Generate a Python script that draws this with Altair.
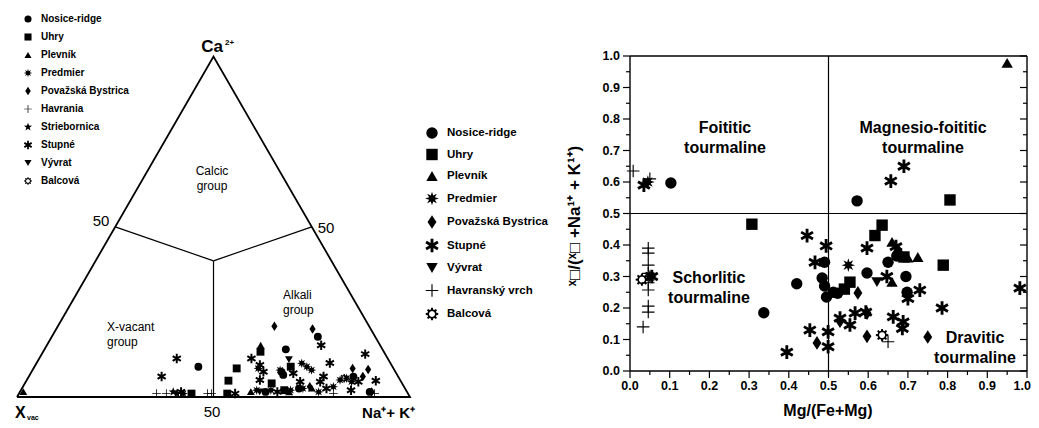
import math
import altair as alt
import pandas as pd

FONT = "Liberation Sans"

TERN_SITES = ["Nosice-ridge", "Uhry", "Plevník", "Predmier", "Považská Bystrica",
              "Havrania", "Striebornica", "Stupné", "Vývrat", "Balcová"]
XY_SITES = ["Nosice-ridge", "Uhry", "Plevník", "Predmier", "Považská Bystrica",
            "Stupné", "Vývrat", "Havranský vrch", "Balcová"]

# ternary X-site data (%): Ca and Na+K (X-vacancy = remainder)
T_NOS_CA = [8.9, 14.0, 17.7, 7.4, 6.0, 1.5, 2.5, 1.5, 6.5]
T_NOS_NAK = [41.7, 61.4, 67.7, 63.6, 82.6, 62.5, 70.5, 89.0, 64.5]
T_UHR_CA = [8.4, 4.8, 1.0, 13.3, 8.9, 4.0, 1.0, 2.0]
T_UHR_NAK = [51.7, 51.4, 53.0, 55.3, 65.2, 62.8, 43.9, 67.0]
T_PLE_CA = [1.6, 15.2, 1.6, 2.6, 1.5]
T_PLE_NAK = [0.8, 54.4, 58.7, 73.7, 68.5]
T_PRE_CA = [1.0, 8.4, 9.9, 8.9, 7.9, 5.0, 5.5, 4.5, 7.9, 2.0, 2.0, 2.0, 2.5, 3.0, 1.5]
T_PRE_NAK = [41.8, 57.2, 67.5, 69.3, 71.0, 79.7, 81.1, 82.9, 63.0, 60.0, 63.6, 68.6, 71.5, 79.0, 76.0]
T_POV_CA = [20.8, 20.0, 8.4, 8.1, 3.0, 1.5, 6.0]
T_POV_NAK = [55.1, 65.2, 81.2, 85.3, 73.0, 89.5, 85.0]
T_HAV_CA = [1.0, 1.0, 1.0, 1.0, 1.0, 1.0]
T_HAV_NAK = [35.0, 37.5, 48.0, 49.0, 80.0, 90.5]
T_STR_CA = [1.5, 1.0]
T_STR_NAK = [39.0, 40.2]
T_STU_CA = [11.3, 6.0, 1.5, 1.0, 11.3, 5.0, 15.2, 10.0, 12.6, 4.8, 9.4, 7.4, 6.0, 4.5,
            4.5, 7.0, 1.5, 2.5, 4.5, 2.0]
T_STU_NAK = [35.0, 33.8, 41.0, 55.0, 54.0, 59.3, 69.8, 74.6, 82.3, 88.9, 57.1, 59.0, 75.0, 74.9,
             69.8, 66.8, 65.5, 77.5, 84.6, 84.0]
T_VYV_CA = [11.0, 1.5]
T_VYV_NAK = [63.7, 61.0]
T_BAL_CA = [5.5]
T_BAL_NAK = [80.5]

# triangle outline and field boundaries (Ca %, Na+K %)
OUTLINE_CA = [0, 0, 100, 0]
OUTLINE_NAK = [0, 100, 0, 0]
CENTER_CA, CENTER_NAK = 40, 30
BOUND_CA = [50, 50, 0]
BOUND_NAK = [0, 50, 50]

# Mg/(Fe+Mg) vs X-vacancy data
S_NOS_MG = [0.103, 0.572, 0.420, 0.337, 0.490, 0.484, 0.490, 0.495, 0.512, 0.523, 0.597, 0.650, 0.672, 0.695, 0.698]
S_NOS_XV = [0.597, 0.540, 0.277, 0.185, 0.345, 0.295, 0.270, 0.235, 0.250, 0.247, 0.311, 0.345, 0.365, 0.300, 0.250]
S_UHR_MG = [0.307, 0.806, 0.635, 0.617, 0.554, 0.540, 0.789, 0.690]
S_UHR_XV = [0.466, 0.543, 0.463, 0.430, 0.282, 0.260, 0.336, 0.362]
S_PLE_MG = [0.950, 0.660, 0.675, 0.725, 0.700, 0.660]
S_PLE_XV = [0.978, 0.410, 0.390, 0.362, 0.360, 0.283]
S_PRE_MG = [0.045, 0.550, 0.050]
S_PRE_XV = [0.600, 0.336, 0.300]
S_POV_MG = [0.574, 0.529, 0.597, 0.471, 0.597, 0.750]
S_POV_XV = [0.248, 0.158, 0.184, 0.089, 0.110, 0.108]
S_STU_MG = [0.035, 0.657, 0.690, 0.446, 0.494, 0.597, 0.466, 0.647, 0.730, 0.700, 0.786, 0.982, 0.529,
            0.554, 0.567, 0.594, 0.663, 0.688, 0.686, 0.453, 0.499, 0.499, 0.395, 0.055, 0.670]
S_STU_XV = [0.590, 0.603, 0.650, 0.430, 0.397, 0.390, 0.345, 0.300, 0.257, 0.230, 0.200, 0.263, 0.168,
            0.146, 0.184, 0.187, 0.172, 0.156, 0.135, 0.130, 0.124, 0.077, 0.060, 0.300, 0.395]
S_VYV_MG = [0.622]
S_VYV_XV = [0.282]
S_HAV_MG = [0.008, 0.050, 0.046, 0.046, 0.046, 0.046, 0.046, 0.046, 0.046, 0.046, 0.033, 0.650]
S_HAV_XV = [0.635, 0.610, 0.390, 0.374, 0.336, 0.310, 0.280, 0.257, 0.206, 0.187, 0.140, 0.093]
S_BAL_MG = [0.030, 0.635]
S_BAL_XV = [0.290, 0.114]

MAJOR_TICKS = [round(i * 0.1, 1) for i in range(11)]
MINOR_TICKS = [round(0.05 + i * 0.1, 2) for i in range(10)]
TICK_LABELS = [f"{v:.1f}" for v in MAJOR_TICKS]


def poly(pts):
    return "M" + "L".join(f"{x:.3f},{y:.3f}" for x, y in pts) + "Z"


def arms(angles, hl, hw):
    out = ""
    for a in angles:
        t = math.radians(a)
        ux, uy = math.cos(t), math.sin(t)
        nx, ny = -uy, ux
        out += poly([(hl * ux + hw * nx, hl * uy + hw * ny), (-hl * ux + hw * nx, -hl * uy + hw * ny),
                     (-hl * ux - hw * nx, -hl * uy - hw * ny), (hl * ux - hw * nx, hl * uy - hw * ny)])
    return out


def burst(n, ro, ri):
    pts = []
    for i in range(2 * n):
        t = math.radians(-90 + i * 180 / n)
        r = ro if i % 2 == 0 else ri
        pts.append((r * math.cos(t), r * math.sin(t)))
    return poly(pts)


def gear(n, ro, rr, rh):
    step = 360 / n
    pts = []
    for k in range(n):
        c = k * step
        for a, r in ((c - step * 0.32, rr), (c - step * 0.18, ro), (c + step * 0.18, ro), (c + step * 0.32, rr)):
            t = math.radians(a)
            pts.append((r * math.cos(t), r * math.sin(t)))
    hole = [(rh * math.cos(math.radians(-15 * k)), rh * math.sin(math.radians(-15 * k))) for k in range(24)]
    return poly(pts) + poly(hole)


PLUS = arms((0, 90), 1.1, 0.1)
SHAPE = {
    "Nosice-ridge": "circle",
    "Uhry": "square",
    "Plevník": "triangle-up",
    "Predmier": burst(8, 1.2, 0.55),
    "Považská Bystrica": "M0,-1.2L0.78,0L0,1.2L-0.78,0Z",
    "Havrania": PLUS,
    "Havranský vrch": PLUS,
    "Striebornica": burst(5, 1.2, 0.5),
    "Stupné": arms((90, 30, 150), 1.2, 0.25),
    "Vývrat": "triangle-down",
    "Balcová": gear(8, 1.1, 0.8, 0.52),
}

tern_groups = [
    ("Nosice-ridge", T_NOS_CA, T_NOS_NAK), ("Uhry", T_UHR_CA, T_UHR_NAK), ("Plevník", T_PLE_CA, T_PLE_NAK),
    ("Predmier", T_PRE_CA, T_PRE_NAK), ("Považská Bystrica", T_POV_CA, T_POV_NAK),
    ("Havrania", T_HAV_CA, T_HAV_NAK), ("Striebornica", T_STR_CA, T_STR_NAK), ("Stupné", T_STU_CA, T_STU_NAK),
    ("Vývrat", T_VYV_CA, T_VYV_NAK), ("Balcová", T_BAL_CA, T_BAL_NAK),
]
rows = []
for site, cas, naks in tern_groups:
    for ca, nak in zip(cas, naks):
        rows.append({"site": site, "ca": ca, "nak": nak})
df_t = pd.DataFrame(rows)

xy_groups = [
    ("Nosice-ridge", S_NOS_MG, S_NOS_XV), ("Uhry", S_UHR_MG, S_UHR_XV), ("Plevník", S_PLE_MG, S_PLE_XV),
    ("Predmier", S_PRE_MG, S_PRE_XV), ("Považská Bystrica", S_POV_MG, S_POV_XV), ("Stupné", S_STU_MG, S_STU_XV),
    ("Vývrat", S_VYV_MG, S_VYV_XV), ("Havranský vrch", S_HAV_MG, S_HAV_XV), ("Balcová", S_BAL_MG, S_BAL_XV),
]
rows = []
for site, mgs, xvs in xy_groups:
    for mg, xv in zip(mgs, xvs):
        rows.append({"site": site, "mg": mg, "xv": xv})
df_s = pd.DataFrame(rows)

df_outline = pd.DataFrame({"ca": OUTLINE_CA, "nak": OUTLINE_NAK, "ord": list(range(len(OUTLINE_CA)))})
df_bound = pd.DataFrame({"ca": BOUND_CA, "nak": BOUND_NAK,
                         "ca0": [CENTER_CA] * 3, "nak0": [CENTER_NAK] * 3})
df_major = pd.DataFrame({"v": MAJOR_TICKS, "lab": TICK_LABELS})
df_minor = pd.DataFrame({"v": MINOR_TICKS})
ONE = pd.DataFrame({"k": [0]})

# ---------------- ternary panel ----------------
TW, TH = 552, 412
SX_T = alt.Scale(domain=[-9 / 393, -9 / 393 + TW / 393], nice=False, zero=False)
SY_T = alt.Scale(domain=[-23 / 393, (TH - 23) / 393], nice=False, zero=False)
CX = "(datum.nak + datum.ca / 2) / 100"
CY = "datum.ca * sqrt(3) / 200"


def label(text, x, y, size=12, weight="normal", align="left", baseline="alphabetic", angle=0, lh=None):
    kw = dict(text=text, fontSize=size, fontWeight=weight, align=align, baseline=baseline,
              font=FONT, color="black")
    if angle:
        kw["angle"] = angle
    if lh:
        kw["lineBreak"] = "\n"
        kw["lineHeight"] = lh
    return alt.Chart(ONE).mark_text(**kw).encode(x=alt.value(x), y=alt.value(y))


outline = alt.Chart(df_outline).transform_calculate(cx=CX, cy=CY).mark_line(
    color="black", strokeWidth=1.8).encode(
    x=alt.X("cx:Q", scale=SX_T, axis=None), y=alt.Y("cy:Q", scale=SY_T, axis=None), order="ord:Q")

bounds = alt.Chart(df_bound).transform_calculate(
    cx=CX, cy=CY, cx0="(datum.nak0 + datum.ca0 / 2) / 100", cy0="datum.ca0 * sqrt(3) / 200"
).mark_rule(color="black", strokeWidth=1.2).encode(
    x=alt.X("cx0:Q", scale=SX_T, axis=None), y=alt.Y("cy0:Q", scale=SY_T, axis=None),
    x2="cx:Q", y2="cy:Q")

tern_pts = alt.Chart(df_t).transform_calculate(cx=CX, cy=CY).mark_point(
    filled=True, opacity=1, size=62, color="black", strokeWidth=0).encode(
    x=alt.X("cx:Q", scale=SX_T, axis=None),
    y=alt.Y("cy:Q", scale=SY_T, axis=None),
    shape=alt.Shape("site:N", scale=alt.Scale(domain=TERN_SITES, range=[SHAPE[s] for s in TERN_SITES]),
                    legend=alt.Legend(orient="none", legendX=15, legendY=6, title=None, symbolSize=50,
                                      labelFontSize=10, labelFontWeight="bold", labelFont=FONT,
                                      labelColor="black", rowPadding=8, labelOffset=8,
                                      symbolFillColor="black", symbolStrokeWidth=0, symbolOpacity=1,
                                      labelLimit=300, padding=0)),
)

tern = alt.layer(
    outline, bounds, tern_pts,
    label("Ca", 204, 44, size=17, weight="bold", align="center"),
    label("2+", 217, 37, size=8, weight="bold"),
    label("50", 93, 218, size=15, align="center"),
    label("50", 318, 225, size=15, align="center"),
    label("50", 204, 409, size=15, align="center"),
    label("X", 7, 410, size=16, weight="bold"),
    label("vac", 19, 412, size=7, weight="bold"),
    label("Na⁺+ K⁺", 407, 410, size=15, weight="bold", align="right"),
    label("Calcic\ngroup", 204, 158, size=12, align="center", baseline="top", lh=15),
    label("X-vacant\ngroup", 99, 314, size=12, baseline="top", lh=15),
    label("Alkali\ngroup", 275, 282, size=12, baseline="top", lh=15),
).properties(width=TW, height=TH)

# ---------------- scatter panel ----------------
SW, SH = 397, 363
SX_S = alt.Scale(domain=[0, 1], nice=False, zero=False)
SY_S = alt.Scale(domain=[0, 1], range=[SH, 48], nice=False, zero=False)

xy_pts = alt.Chart(df_s).mark_point(filled=True, opacity=1, size=130, color="black", strokeWidth=0).encode(
    x=alt.X("mg:Q", scale=SX_S, axis=None),
    y=alt.Y("xv:Q", scale=SY_S, axis=None),
    shape=alt.Shape("site:N", scale=alt.Scale(domain=XY_SITES, range=[SHAPE[s] for s in XY_SITES]),
                    legend=alt.Legend(orient="none", legendX=-204, legendY=119, title=None, symbolSize=130,
                                      labelFontSize=11.5, labelFontWeight="bold", labelFont=FONT,
                                      labelColor="black", rowPadding=9.5, labelOffset=9,
                                      symbolFillColor="black", symbolStrokeWidth=0, symbolOpacity=1,
                                      labelLimit=300, padding=0)),
)


def xd(v):
    return alt.XDatum(v, scale=SX_S, axis=None)


def yd(v):
    return alt.YDatum(v, scale=SY_S, axis=None)


def yv():
    return alt.Y("v:Q", scale=SY_S, axis=None)


def xv():
    return alt.X("v:Q", scale=SX_S, axis=None)


RULE = dict(color="black", strokeWidth=1.2)
FRAME = dict(color="black", strokeWidth=1.4)
frame_top = alt.Chart(ONE).mark_rule(**FRAME).encode(x=xd(0), x2=alt.X2Datum(1), y=yd(1))
frame_bottom = alt.Chart(ONE).mark_rule(**FRAME).encode(x=xd(0), x2=alt.X2Datum(1), y=yd(0))
frame_left = alt.Chart(ONE).mark_rule(**FRAME).encode(x=xd(0), y=yd(0), y2=alt.Y2Datum(1))
frame_right = alt.Chart(ONE).mark_rule(**FRAME).encode(x=xd(1), y=yd(0), y2=alt.Y2Datum(1))
ref_v = alt.Chart(ONE).mark_rule(**RULE).encode(x=xd(0.5), y=yd(0), y2=alt.Y2Datum(1))
ref_h = alt.Chart(ONE).mark_rule(**RULE).encode(y=yd(0.5), x=xd(0), x2=alt.X2Datum(1))
rt_major = alt.Chart(df_major).mark_rule(x2Offset=-7, **RULE).encode(x=xd(1), x2=alt.X2Datum(1), y=yv())
rt_minor = alt.Chart(df_minor).mark_rule(x2Offset=-4, **RULE).encode(x=xd(1), x2=alt.X2Datum(1), y=yv())
lt_major = alt.Chart(df_major).mark_rule(x2Offset=-7, **RULE).encode(x=xd(0), x2=alt.X2Datum(0), y=yv())
lt_minor = alt.Chart(df_minor).mark_rule(x2Offset=-4, **RULE).encode(x=xd(0), x2=alt.X2Datum(0), y=yv())
bt_major = alt.Chart(df_major).mark_rule(y2Offset=7, **RULE).encode(y=yd(0), y2=alt.Y2Datum(0), x=xv())
bt_minor = alt.Chart(df_minor).mark_rule(y2Offset=4, **RULE).encode(y=yd(0), y2=alt.Y2Datum(0), x=xv())
TICK_TXT = dict(font=FONT, fontSize=12.5, fontWeight="bold", color="black")
lt_labels = alt.Chart(df_major).mark_text(align="right", baseline="middle", dx=-10, **TICK_TXT).encode(
    x=xd(0), y=yv(), text="lab:N")
bt_labels = alt.Chart(df_major).transform_filter("datum.v < 0.95").mark_text(
    align="center", baseline="middle", dy=15, **TICK_TXT).encode(x=xv(), y=yd(0), text="lab:N")
bt_last = alt.Chart(df_major).transform_filter("datum.v > 0.95").mark_text(
    align="right", baseline="middle", dy=15, dx=4, **TICK_TXT).encode(x=xv(), y=yd(0), text="lab:N")

REG = dict(size=16, weight="bold", align="center", baseline="top", lh=20)
scatter = alt.layer(
    xy_pts, frame_top, frame_bottom, frame_left, frame_right, ref_v, ref_h,
    rt_major, rt_minor, lt_major, lt_minor, bt_major, bt_minor, lt_labels, bt_labels, bt_last,
    label("Foititic\ntourmaline", 95, 112, **REG),
    label("Magnesio-foititic\ntourmaline", 293, 112, **REG),
    label("Schorlitic\ntourmaline", 79, 262, **REG),
    label("Dravitic\ntourmaline", 345, 322, **REG),
    label("Mg/(Fe+Mg)", 198, 403, size=16, weight="bold", align="center", baseline="middle"),
    label("ˣ□/(ˣ□ +Na¹⁺ + K¹⁺)", -55, 208, size=17, weight="bold", align="center",
          baseline="middle", angle=270),
).properties(width=SW, height=SH)

chart = alt.hconcat(tern, scatter, spacing=70, bounds="flush").resolve_scale(
    shape="independent").properties(padding=0, background="white").configure(
    font=FONT, view=alt.ViewConfig(strokeOpacity=0))

chart.save("out.html", embed_options={"renderer": "svg", "actions": False})
